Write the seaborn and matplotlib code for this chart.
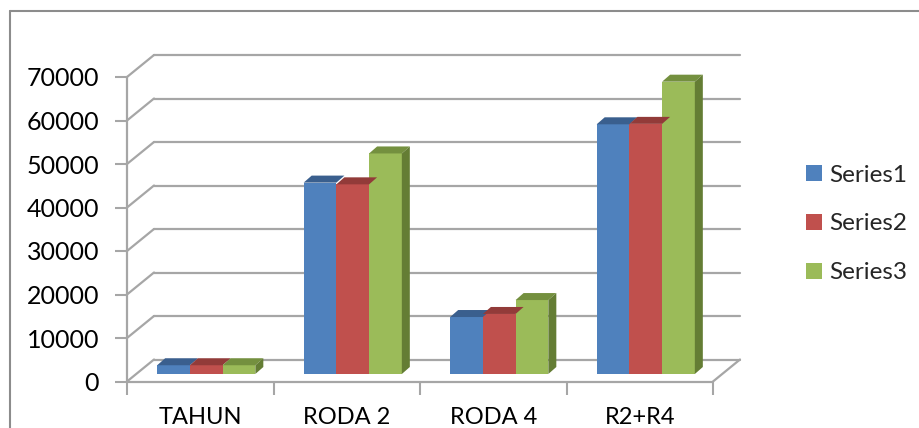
import numpy as np
import pandas as pd
import matplotlib
matplotlib.use('Agg')
import matplotlib.pyplot as plt
from matplotlib.patches import Polygon
from matplotlib.lines import Line2D
from matplotlib.transforms import ScaledTranslation
import seaborn as sns

# data
kategori = ['TAHUN', 'RODA 2', 'RODA 4', 'R2+R4']
series1 = [2011, 44000, 13100, 57400]
series2 = [2012, 43600, 13800, 57500]
series3 = [2013, 50700, 17000, 67200]
nama_series = ['Series1', 'Series2', 'Series3']
y_ticks = [0, 10000, 20000, 30000, 40000, 50000, 60000, 70000]

warna = ['#4F81BD', '#C0504D', '#9BBB59']
warna_atas = ['#3A5F8E', '#923B39', '#74903F']
warna_samping = ['#36577F', '#7F2F2D', '#647D34']
abu = '#a6a6a6'

df = pd.DataFrame({
    'kategori': kategori * 3,
    'nilai': series1 + series2 + series3,
    'series': np.repeat(nama_series, len(kategori)),
})

sns.set_style('white')
plt.rcParams['font.family'] = ['Lato', 'DejaVu Sans']

W, H = 919, 428
fig = plt.figure(figsize=(W / 100, H / 100), dpi=100)
# sumbu depan: x 127..713 px, y 0 -> 381.5 px, 70000 -> 77 px (dari atas)
ax = fig.add_axes([127 / W, (H - 381.5) / H, (713 - 127) / W, (381.5 - 77) / H])

sns.barplot(data=df, x='kategori', y='nilai', hue='series', palette=warna,
            saturation=1, width=0.67, gap=0, ax=ax, zorder=3,
            linewidth=0, edgecolor='none')

ax.set_xlim(-0.5, 3.5)
ax.set_ylim(0, 70000)
ax.set_xlabel('')
ax.set_ylabel('')
for s in ax.spines.values():
    s.set_visible(False)

# ukuran piksel -> satuan data
px_x = ax.transData.transform((1, 0))[0] - ax.transData.transform((0, 0))[0]
px_y = ax.transData.transform((0, 1000))[1] - ax.transData.transform((0, 0))[1]
px_y = px_y / 1000

# dinding belakang & garis grid (efek 3D)
wx, wy = 27 / px_x, 22 / px_y
for v in y_ticks:
    ax.plot([-0.5, -0.5 + wx], [v, v + wy], color=abu, lw=1.6, clip_on=False, zorder=1)
    ax.plot([-0.5 + wx, 3.5 + wx], [v + wy, v + wy], color=abu, lw=1.6, clip_on=False, zorder=1)
ax.plot([3.5, 3.5 + wx], [0, wy], color=abu, lw=1.6, clip_on=False, zorder=1)
ax.plot([-0.5, 3.5], [0, 0], color=abu, lw=1.6, clip_on=False, zorder=2)
ax.plot([-0.5, -0.5], [0, 70000], color=abu, lw=1.6, clip_on=False, zorder=2)

# geser batang ke tengah kedalaman + tambah sisi atas & samping
sx, sy = 6 / px_x, 7.5 / px_y
dx, dy = 8 / px_x, 7 / px_y
geser = ScaledTranslation(6 / 100, 7.5 / 100, fig.dpi_scale_trans)
for i, cont in enumerate(ax.containers):
    for bar in cont:
        bar.set_transform(ax.transData + geser)
        bar.set_clip_on(False)
        x0, w, h = bar.get_x() + sx, bar.get_width(), bar.get_height() + sy
        atas = Polygon([(x0, h), (x0 + w, h), (x0 + w + dx, h + dy), (x0 + dx, h + dy)],
                       closed=True, facecolor=warna_atas[i], edgecolor='none',
                       clip_on=False, zorder=4)
        ax.add_patch(atas)
        if i == len(ax.containers) - 1:
            samping = Polygon([(x0 + w, sy), (x0 + w + dx, sy + dy),
                               (x0 + w + dx, h + dy), (x0 + w, h)],
                              closed=True, facecolor=warna_samping[i], edgecolor='none',
                              clip_on=False, zorder=4)
            ax.add_patch(samping)

# tick
ax.set_yticks(y_ticks)
ax.set_yticklabels([str(v) for v in y_ticks])
ax.tick_params(axis='y', left=True, length=9, width=1.5, color=abu, pad=11,
               labelsize=18, labelcolor='black')
ax.set_xticks(range(len(kategori)))
ax.set_xticklabels(kategori)
ax.set_xticks([-0.5, 0.5, 1.5, 2.5, 3.5], minor=True)
ax.tick_params(axis='x', which='major', length=0, pad=18, labelsize=17, labelcolor='black')
ax.tick_params(axis='x', which='minor', bottom=True, length=9, width=1.5, color=abu)

sns.move_legend(ax, 'center left', bbox_to_anchor=(806 / W, 1 - 224 / H),
                bbox_transform=fig.transFigure, frameon=False, title=None,
                fontsize=17.5, handlelength=0.65, handleheight=0.65,
                handletextpad=0.3, labelspacing=1.15, borderpad=0, borderaxespad=0)

# bingkai luar
fig.add_artist(Line2D([10 / W, 1], [1 - 11 / H, 1 - 11 / H], transform=fig.transFigure,
                      color='#8c8c8c', lw=1.5))
fig.add_artist(Line2D([10 / W, 10 / W], [0, 1 - 11 / H], transform=fig.transFigure,
                      color='#8c8c8c', lw=1.5))

fig.savefig('out.png', dpi=100)
